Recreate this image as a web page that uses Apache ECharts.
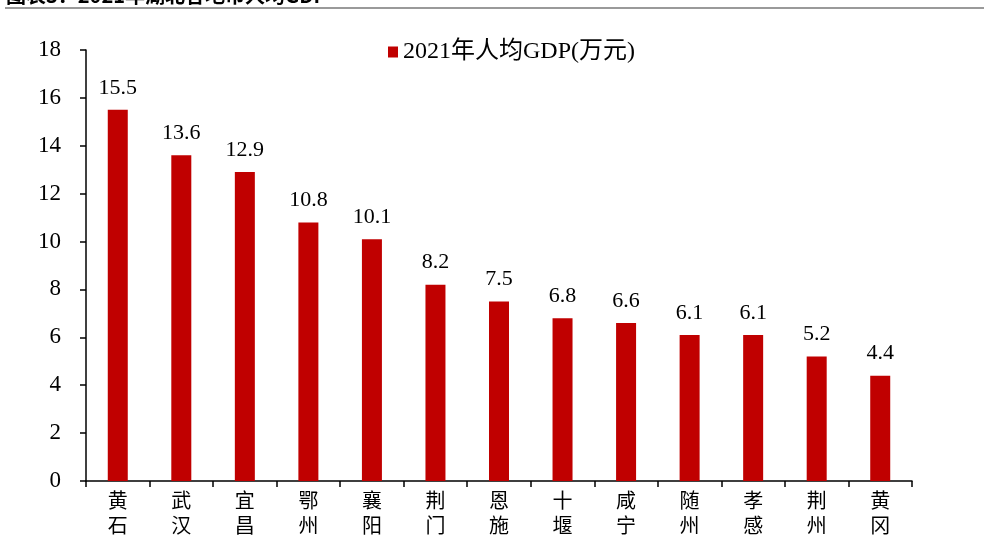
<!DOCTYPE html>
<html><head><meta charset="utf-8">
<script src="https://cdn.jsdelivr.net/npm/echarts@6/dist/echarts.min.js"></script>
<style>html,body{margin:0;padding:0;background:#fff}#c{width:984px;height:545px}</style>
</head><body><div id="c"></div>
<script>
const categories = ['黄石','武汉','宜昌','鄂州','襄阳','荆门','恩施','十堰','咸宁','随州','孝感','荆州','黄冈'];
const seriesName = '2021年人均GDP(万元)';
const values = [15.5, 13.6, 12.9, 10.8, 10.1, 8.2, 7.5, 6.8, 6.6, 6.1, 6.1, 5.2, 4.4];
const titleText = '图表3：2021年湖北各地市人均GDP';

const serif = '"Liberation Serif", "Times New Roman", "Noto Sans CJK SC", serif';
const chart = echarts.init(document.getElementById('c'));
chart.setOption({
  animation: false,
  textStyle: { fontFamily: serif },
  graphic: [
    { type: 'text', left: 6, top: -15, style: { text: titleText, font: 'bold 20px "Noto Sans CJK SC", sans-serif', fill: '#000' } },
    { type: 'rect', shape: { x: 5, y: 7, width: 979, height: 2 }, style: { fill: '#9a9a9a' } }
  ],
  legend: {
    top: 35, left: 383, itemWidth: 10, itemHeight: 11, itemGap: 7,
    icon: 'rect', data: [seriesName],
    textStyle: { fontSize: 24, color: '#000', fontFamily: serif }
  },
  grid: { left: 86, right: 72, top: 50, bottom: 64, containLabel: false },
  xAxis: {
    type: 'category', data: categories,
    axisLine: { lineStyle: { color: '#000', width: 1.5 } },
    axisTick: { show: true, length: 6, alignWithLabel: false, lineStyle: { color: '#000', width: 1.5 } },
    axisLabel: {
      color: '#000', fontSize: 20, lineHeight: 25, margin: 7,
      fontFamily: '"Noto Sans CJK SC", serif',
      formatter: v => v.split('').join('\n')
    }
  },
  yAxis: {
    type: 'value', min: 0, max: 18, interval: 2,
    splitLine: { show: false },
    axisLine: { show: true, lineStyle: { color: '#000', width: 1.5 } },
    axisTick: { show: true, length: 6, lineStyle: { color: '#000', width: 1.5 } },
    axisLabel: { color: '#000', fontSize: 23, margin: 25, fontFamily: serif }
  },
  series: [{
    name: seriesName, type: 'bar', data: values, barWidth: 20,
    itemStyle: { color: '#C00000' },
    label: { show: true, position: 'top', distance: 11, color: '#000', fontSize: 22, fontFamily: serif,
      formatter: p => p.value.toFixed(1) }
  }]
});
</script></body></html>
